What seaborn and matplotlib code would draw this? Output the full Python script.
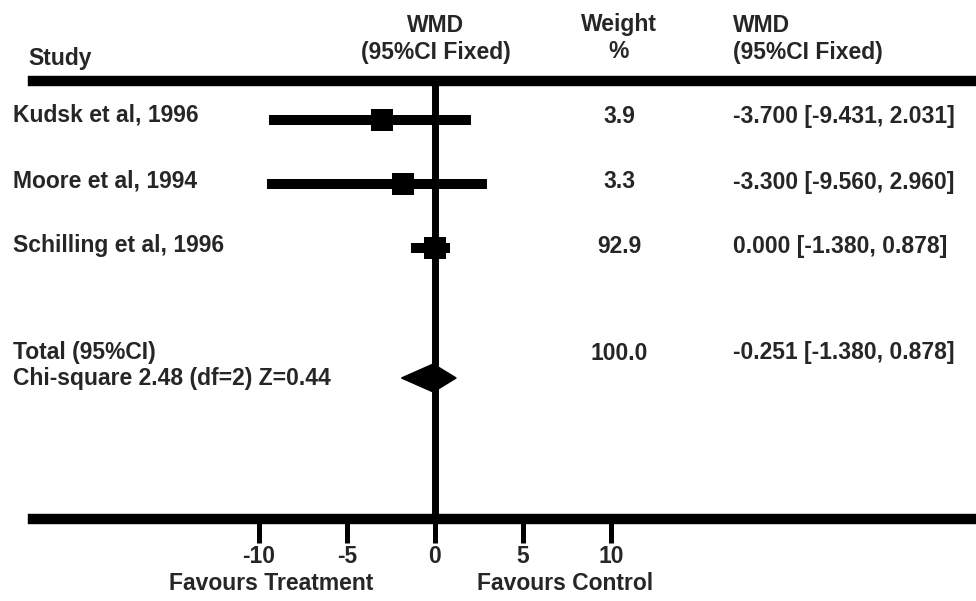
import numpy as np
import pandas as pd
import matplotlib
matplotlib.use("Agg")
import matplotlib.pyplot as plt
import seaborn as sns

# data
studies = ["Kudsk et al, 1996", "Moore et al, 1994", "Schilling et al, 1996"]
weights = ["3.9", "3.3", "92.9"]
wmd_text = ["-3.700 [-9.431, 2.031]", "-3.300 [-9.560, 2.960]", "0.000 [-1.380, 0.878]"]
point_est = [-3.0, -1.8, 0.0]          # where the squares sit in the drawing
ci_low = [-9.431, -9.560, -1.380]
ci_high = [2.031, 2.960, 0.878]

total_label = "Total (95%CI)"
total_weight = "100.0"
total_text = "-0.251 [-1.380, 0.878]"
heterogeneity = "Chi-square 2.48 (df=2) Z=0.44"
diamond_low, diamond_mid, diamond_high = -1.9, -0.1, 1.2

xticks = [-10, -5, 0, 5, 10]

W, H = 976, 601
sns.set_theme(style="white")
plt.rcParams['font.family'] = ['Liberation Sans', 'DejaVu Sans']
plt.rcParams['font.weight'] = 'bold'

fig = plt.figure(figsize=(W / 100, H / 100), dpi=100)

# layout in pixels
row_y = [120, 184, 248]
text_y = [115, 181, 245]
total_y = 378
left_px, top_px, bottom_px = 33, 81, 519
zero_px, unit_px = 435, 17.6
fs = 16.5


def fy(y):
    return 1 - y / H


ax = fig.add_axes([left_px / W, fy(bottom_px), 1 - left_px / W, fy(top_px) - fy(bottom_px)])
ax.set_xlim((left_px - zero_px) / unit_px, (W - zero_px) / unit_px)
ax.set_ylim(bottom_px, top_px)

df = pd.DataFrame({"study": studies, "est": point_est, "lo": ci_low,
                   "hi": ci_high, "y": row_y})

ax.axvline(0, color="black", lw=5, zorder=1)
ax.hlines(df["y"], df["lo"], df["hi"], color="black", lw=7.2, zorder=2)
sns.scatterplot(data=df, x="est", y="y", marker="s", s=260, color="black",
                linewidth=0, ax=ax, zorder=3, legend=False)

ax.fill([diamond_low, diamond_mid, diamond_high, diamond_mid],
        [total_y, total_y - 14, total_y, total_y + 14], color="black", zorder=3)

for side in ["left", "right"]:
    ax.spines[side].set_visible(False)
for side in ["top", "bottom"]:
    ax.spines[side].set_linewidth(7.5)
    ax.spines[side].set_color("black")

ax.set_yticks([])
ax.set_xticks(xticks)
ax.set_xticklabels([str(t) for t in xticks], fontsize=fs, fontweight="bold")
ax.tick_params(axis="x", direction="out", length=17, width=3.6, pad=2,
               color="black", bottom=True)
ax.set_xlabel("")
ax.set_ylabel("")
ax.patch.set_alpha(0)

col_w, col_r = 619, 733

# header
fig.text(28 / W, fy(59), "Study", fontsize=fs, fontweight="bold", va="center")
fig.text(436 / W, fy(25), "WMD", fontsize=fs, fontweight="bold", ha="center", va="center")
fig.text(436 / W, fy(52), "(95%CI Fixed)", fontsize=fs, fontweight="bold", ha="center", va="center")
fig.text(col_w / W, fy(24), "Weight", fontsize=fs, fontweight="bold", ha="center", va="center")
fig.text(col_w / W, fy(51), "%", fontsize=fs, fontweight="bold", ha="center", va="center")
fig.text(col_r / W, fy(25), "WMD", fontsize=fs, fontweight="bold", va="center")
fig.text(col_r / W, fy(52), "(95%CI Fixed)", fontsize=fs, fontweight="bold", va="center")

# rows
for name, w, t, y in zip(studies, weights, wmd_text, text_y):
    fig.text(13 / W, fy(y), name, fontsize=fs, fontweight="bold", va="center")
    fig.text(col_w / W, fy(y + 1), w, fontsize=fs, fontweight="bold", ha="center", va="center")
    fig.text(col_r / W, fy(y + 1), t, fontsize=fs, fontweight="bold", va="center")

fig.text(13 / W, fy(353), total_label, fontsize=fs, fontweight="bold", va="center")
fig.text(13 / W, fy(378), heterogeneity, fontsize=fs, fontweight="bold", va="center")
fig.text(col_w / W, fy(353), total_weight, fontsize=fs, fontweight="bold", ha="center", va="center")
fig.text(col_r / W, fy(353), total_text, fontsize=fs, fontweight="bold", va="center")

fig.text(271 / W, fy(584), "Favours Treatment", fontsize=fs, fontweight="bold", ha="center", va="center")
fig.text(565 / W, fy(584), "Favours Control", fontsize=fs, fontweight="bold", ha="center", va="center")

fig.savefig("out.png", dpi=100, facecolor="white")
